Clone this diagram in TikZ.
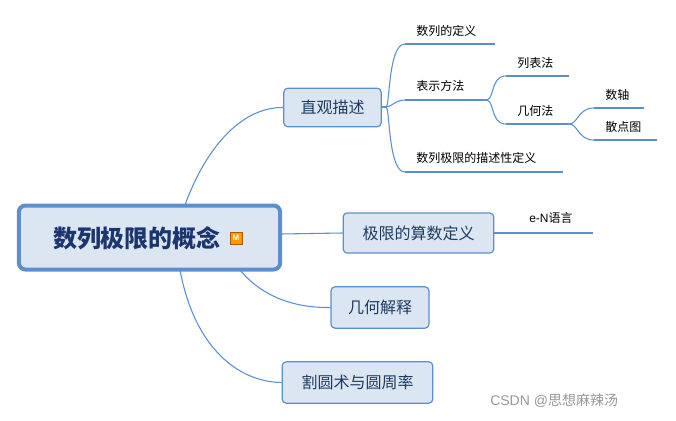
\documentclass[tikz,border=0pt]{standalone}
\usepackage{fontspec}
\setmainfont{Noto Sans CJK SC}
\setsansfont{Liberation Sans}
\begin{document}
\begin{tikzpicture}[x=0.75pt,y=-0.75pt,
  conn/.style={draw=lineblue,line width=0.8pt},
  uline/.style={draw=lineblue,line width=2.2pt},
  box/.style={draw=lineblue,fill=boxfill,rounded corners=3pt,line width=0.9pt,font=\fontsize{12}{14}\selectfont,text=darktext,inner sep=0pt},
  leaf/.style={font=\fontsize{9}{11}\selectfont,anchor=west,inner sep=0pt}]
\definecolor{lineblue}{HTML}{5B8FD0}
\definecolor{boxfill}{HTML}{DCE6F2}
\definecolor{darktext}{HTML}{1F3B5F}
\useasboundingbox (0,0) rectangle (676,421);
\fill[white] (0,0) rectangle (676,421);
% root
\node[draw=lineblue,fill=boxfill,line width=3pt,rounded corners=5pt,minimum width=196pt,minimum height=48pt,inner sep=0pt] (root) at (149.5,237.5) {};
\node[font=\bfseries\fontsize{18}{20}\selectfont,text=darktext!90!blue] (rt) at (137,238) {数列极限的概念};
\node[fill=orange!80!yellow,draw=orange!70!black,line width=0.3pt,minimum size=9,inner sep=0pt,font=\sffamily\bfseries\fontsize{6}{6}\selectfont,text=white] (m) at (236,238) {M};
% boxes
\node[box,minimum width=73pt,minimum height=29pt] (a) at (332.5,107.5) {直观描述};
\node[box,minimum width=113pt,minimum height=30pt] (b) at (418.5,233) {极限的算数定义};
\node[box,minimum width=73.5pt,minimum height=31pt] (c) at (380,307.5) {几何解释};
\node[box,minimum width=113pt,minimum height=31pt] (d) at (357.5,382.5) {割圆术与圆周率};
\coordinate (r1) at (185,205);
\coordinate (r2) at (281,234);
\coordinate (r3) at (240,270);
\coordinate (r4) at (180,270);
\draw[conn] (r1) .. controls (205,150) and (240,107) .. (a.west);
\draw[conn] (r2) -- (b.west);
\draw[conn] (r3) .. controls (265,300) and (300,308) .. (c.west);
\draw[conn] (r4) .. controls (195,350) and (240,382) .. (d.west);
% leaves level 1
\node[leaf] (l1) at (416,31) {数列的定义};
\node[leaf] (l2) at (416,86) {表示方法};
\node[leaf] (l3) at (416,158) {数列极限的描述性定义};
\coordinate (l1a) at (405,44); \coordinate (l1b) at (495,44);
\coordinate (l2a) at (405,100); \coordinate (l2b) at (486,100);
\coordinate (l3a) at (405,172); \coordinate (l3b) at (563,172);
\draw[uline] (l1a) -- (l1b); \draw[uline] (l2a) -- (l2b); \draw[uline] (l3a) -- (l3b);
\coordinate (ao) at (381,107);
\draw[conn] (ao) -- (386,107) .. controls (390,107) and (388,44) .. (l1a);
\draw[conn] (ao) -- (386,107) .. controls (392,107) and (395,100) .. (l2a);
\draw[conn] (ao) -- (386,107) .. controls (390,107) and (388,172) .. (l3a);
% level 2
\node[leaf] (m1) at (517,63) {列表法};
\node[leaf] (m2) at (517,111) {几何法};
\coordinate (m1a) at (506,76); \coordinate (m1b) at (569,76);
\coordinate (m2a) at (506,124); \coordinate (m2b) at (569,124);
\draw[uline] (m1a) -- (m1b); \draw[uline] (m2a) -- (m2b);
\draw[conn] (l2b) .. controls (495,100) and (490,76) .. (m1a);
\draw[conn] (l2b) .. controls (495,100) and (490,124) .. (m2a);
% level 3
\node[leaf] (n1) at (605,95) {数轴};
\node[leaf] (n2) at (605,127) {散点图};
\coordinate (n1a) at (594,108); \coordinate (n1b) at (644,108);
\coordinate (n2a) at (594,140); \coordinate (n2b) at (657,140);
\draw[uline] (n1a) -- (n1b); \draw[uline] (n2a) -- (n2b);
\draw[conn] (m2b) .. controls (578,124) and (578,108) .. (n1a);
\draw[conn] (m2b) .. controls (578,124) and (578,140) .. (n2a);
% e-N
\node[leaf] (e) at (529,218) {\fontspec{Liberation Sans}e-N\fontspec{Noto Sans CJK SC}语言};
\coordinate (ea) at (518,233); \coordinate (eb) at (593,233);
\draw[uline] (ea) -- (eb);
\draw[conn] (b.east) -- (ea);
% watermark
\node[anchor=west,inner sep=0pt,text=gray!80,font=\fontsize{10.5}{12}\selectfont] (w) at (490,401) {\fontspec{Liberation Sans}CSDN @\fontspec{Noto Sans CJK SC}思想麻辣汤};
\end{tikzpicture}
\end{document}
